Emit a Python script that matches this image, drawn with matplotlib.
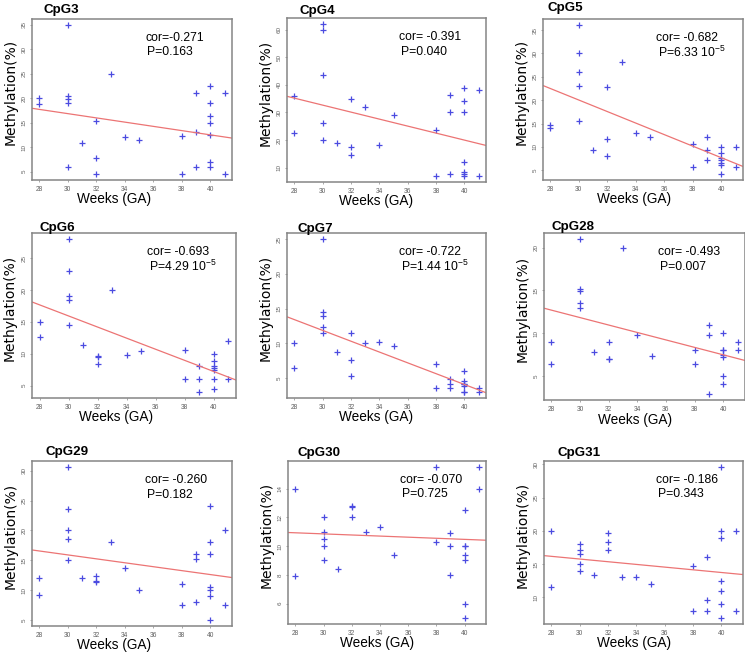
import numpy as np
import matplotlib
matplotlib.use("Agg")
import matplotlib.pyplot as plt

plt.rcParams['font.family'] = ['Liberation Sans', 'DejaVu Sans']
plt.rcParams['mathtext.fontset'] = 'custom'
plt.rcParams['mathtext.rm'] = 'Liberation Sans'
plt.rcParams['mathtext.it'] = 'Liberation Sans'
plt.rcParams['mathtext.bf'] = 'Liberation Sans:bold'

# ---------------- data ----------------
weeks = [28, 28, 30, 30, 30, 30, 30, 31, 32, 32, 32, 33, 34, 35, 38, 38,
         39, 39, 39, 40, 40, 40, 40, 40, 40, 40, 41, 41]

titles = ["CpG3", "CpG4", "CpG5", "CpG6", "CpG7", "CpG28", "CpG29", "CpG30", "CpG31"]

cpg3 = [20, 18.8, 35, 20.5, 19.9, 19, 6, 10.9, 15.3, 7.7, 4.6, 25, 12.05, 11.4,
        12.3, 4.5, 21, 13, 6, 22.5, 19, 16.4, 15, 12.5, 7, 6, 21, 4.5]
cpg4 = [36, 22.4, 62, 60, 43.5, 26.3, 20, 19.1, 35, 17.5, 14.6, 32, 18.2, 29,
        23.8, 7, 36.4, 30, 7.6, 39, 34.3, 30, 11.9, 8.5, 7.8, 7, 38, 7]
cpg5 = [14.7, 14.1, 36.1, 30, 26.1, 23.1, 15.6, 9.3, 22.9, 11.8, 8.1, 28.1, 12.9, 12.1,
        10.7, 5.6, 12.1, 9.3, 7.1, 10, 8.8, 7.7, 7.1, 6.6, 6.1, 4.2, 10, 5.6]
cpg6 = [15, 12.7, 28, 23, 19.1, 18.4, 14.5, 11.3, 9.7, 9.5, 8.4, 20, 9.85, 10.4,
        10.6, 6, 8.0, 6, 4, 10, 8.9, 8.0, 7.7, 7.4, 6, 4.5, 12, 6]
cpg7 = [10, 6.4, 25, 14.5, 14.0, 12.3, 11.5, 8.7, 11.5, 7.65, 5.3, 10, 10.2, 9.66,
        7, 3.5, 4.85, 4.1, 3.6, 6, 4.5, 4.2, 4.1, 3.9, 3.0, 3.0, 3.55, 3.0]
cpg28 = [9, 6.4, 21, 15.2, 14.95, 13.5, 13, 7.8, 9, 7, 7, 20, 9.8, 7.3,
         8, 6.4, 11, 9.8, 2.9, 10, 8, 8, 7.4, 7.2, 5, 4, 9, 8]
cpg29 = [12, 9.1, 30.6, 23.6, 20, 18.5, 15, 12.05, 12.3, 11.6, 11.3, 18, 13.7, 10,
         11, 7.5, 16, 15.2, 8, 24, 18, 16, 10.5, 10, 9, 5, 20, 7.5]
cpg30 = [14, 7.9, 12, 11, 10.5, 10, 9, 8.4, 12.8, 12.7, 12, 11, 11.3, 9.35,
         15.5, 10.3, 10.9, 10, 8, 12.5, 10, 10, 9.4, 9, 6, 5, 15.5, 14]
cpg31 = [20, 11.5, 18, 17.1, 16.5, 15, 13.95, 13.4, 19.65, 18.4, 17.1, 13, 13.1, 12,
         14.65, 8, 16, 9.65, 8, 29.6, 20, 19, 12.5, 11, 9, 6.9, 20, 8]

series = [cpg3, cpg4, cpg5, cpg6, cpg7, cpg28, cpg29, cpg30, cpg31]

cor_text = ["cor=-0.271", "cor= -0.391", "cor= -0.682", "cor= -0.693", "cor= -0.722",
            "cor= -0.493", "cor= -0.260", "cor= -0.070", "cor= -0.186"]
p_text = ["P=0.163", "P=0.040", "P=6.33 10$^{-5}$", "P=4.29 10$^{-5}$", "P=1.44 10$^{-5}$",
          "P=0.007", "P=0.182", "P=0.725", "P=0.343"]

x_ticks = [28, 30, 32, 34, 36, 38, 40]
y_ticks = [[5, 10, 15, 20, 25, 30, 35],
           [10, 20, 30, 40, 50, 60],
           [5, 10, 15, 20, 25, 30, 35],
           [5, 10, 15, 20, 25],
           [5, 10, 15, 20, 25],
           [5, 10, 15, 20],
           [5, 10, 15, 20, 25, 30],
           [6, 8, 10, 12, 14],
           [10, 15, 20, 25, 30]]

# ---------------- layout (pixels) ----------------
W, H = 745, 656
boxes = [(32, 232, 19, 180), (287, 486, 18, 182), (543, 743, 19, 180),
         (32, 236, 233, 398), (287, 486, 233, 398), (544, 745, 233, 400),
         (32, 232, 461, 626), (288, 486, 461, 624), (544, 743, 461, 624)]
title_pos = [(43, 10), (300, 11), (547, 8), (39, 228), (297, 229), (552, 227),
             (45, 452), (297, 453), (557, 453)]
xlab_frac = [0.41, 0.45, 0.455]

fig = plt.figure(figsize=(W / 100, H / 100), dpi=100)

frame_col = '#858585'
tick_col = '#606060'
pt_col = '#4b4be0'
line_col = '#ec7474'

for i in range(9):
    l, r, t, b = boxes[i]
    ax = fig.add_axes([l / W, 1 - b / H, (r - l) / W, (b - t) / H])
    x = np.array(weeks, dtype=float)
    y = np.array(series[i], dtype=float)
    ax.plot(x, y, linestyle='none', marker='+', color=pt_col, markersize=4.5, mew=0.9)
    xr = x.max() - x.min()
    yr = y.max() - y.min()
    xlo, xhi = x.min() - 0.04 * xr, x.max() + 0.04 * xr
    ax.set_xlim(xlo, xhi)
    ax.set_ylim(y.min() - 0.04 * yr, y.max() + 0.04 * yr)
    slope, intercept = np.polyfit(x, y, 1)
    xx = np.array([xlo, xhi])
    ax.plot(xx, intercept + slope * xx, color=line_col, lw=0.9)

    ax.set_xticks(x_ticks)
    ax.set_yticks(y_ticks[i])
    ax.tick_params(axis='both', length=1.5, width=0.5, color=frame_col,
                   labelcolor=tick_col, pad=2.5)
    ax.tick_params(axis='x', labelsize=4.8)
    ax.tick_params(axis='y', labelsize=4.5)
    for lab in ax.get_yticklabels():
        lab.set_rotation(90)
        lab.set_va('center')
    for s in ax.spines.values():
        s.set_color(frame_col)
        s.set_linewidth(1.1)

    ax.set_xlabel("Weeks (GA)", fontsize=9.8)
    ax.set_ylabel("Methylation(%)", fontsize=10, family=['DejaVu Sans'])
    ax.xaxis.set_label_coords(xlab_frac[i % 3], -0.075)
    ax.yaxis.set_label_coords(-0.074, 0.545)

    ax.text(0.565, 0.885, cor_text[i], transform=ax.transAxes, fontsize=8.8,
            va='center', ha='left')
    ax.text(0.575, 0.795, p_text[i], transform=ax.transAxes, fontsize=8.8,
            va='center', ha='left')

    tx, ty = title_pos[i]
    fig.text(tx / W, 1 - ty / H, titles[i], fontsize=9.6, fontweight='bold',
             ha='left', va='center')

fig.savefig("out.png", dpi=100, facecolor='white')
